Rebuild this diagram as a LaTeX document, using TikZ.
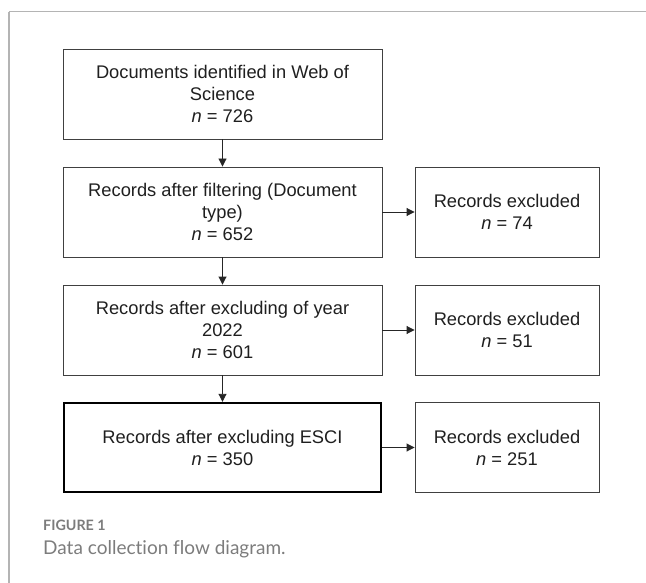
\documentclass[tikz,border=0pt]{standalone}
\usepackage{fontspec}
\setmainfont{Liberation Sans}
\newfontfamily\capfont[Ligatures={NoCommon,NoRare,NoDiscretionary}]{Lato}
\usetikzlibrary{arrows.meta}
\definecolor{boxline}{HTML}{404040}
\definecolor{framegray}{HTML}{B4B4B4}
\definecolor{capgray}{HTML}{7C7C7C}
\tikzset{
  flowbox/.style={draw=boxline, line width=0.9pt, inner sep=0pt, align=center,
    text=black!88, font=\fontsize{18.3}{22}\selectfont},
  leftbox/.style={flowbox, minimum width=319pt, minimum height=90pt},
  rightbox/.style={flowbox, minimum width=184pt, minimum height=90pt},
  finalbox/.style={leftbox, draw=black, line width=2.4pt, minimum width=317pt, minimum height=89pt},
  flowarrow/.style={draw=black!85, line width=0.9pt, -{Triangle[length=8pt,width=8pt]}}
}
\begin{document}
\begin{tikzpicture}[x=1pt,y=-1pt]
\useasboundingbox (0,0) rectangle (646,583);
% frame
\draw[framegray, line width=1pt] (9,12) -- (646,12);
\draw[framegray, line width=2pt] (9,12) -- (9,583);
% boxes
\node[leftbox] (b1) at (222.5,94) {Documents identified in Web of\\Science\\\textit{n} = 726};
\node[leftbox] (b2) at (222.5,212) {Records after filtering (Document\\type)\\\textit{n} = 652};
\node[leftbox] (b3) at (222.5,330) {Records after excluding of year\\2022\\\textit{n} = 601};
\node[finalbox] (b4) at (222.5,447.5) {Records after excluding ESCI\\\textit{n} = 350};
\node[rightbox] (r2) at (507,212) {Records excluded\\\textit{n} = 74};
\node[rightbox] (r3) at (507,330) {Records excluded\\\textit{n} = 51};
\node[rightbox] (r4) at (507,447.5) {Records excluded\\\textit{n} = 251};
% arrows
\draw[flowarrow] (b1) -- (b2);
\draw[flowarrow] (b2) -- (b3);
\draw[flowarrow] (b3) -- (b4);
\draw[flowarrow] (b2) -- (r2);
\draw[flowarrow] (b3) -- (r3);
\draw[flowarrow] (b4) -- (r4);
% caption
\node[anchor=base west, inner sep=0pt, text=capgray, font=\capfont\bfseries\fontsize{14.3}{16}\selectfont] (fig) at (43,530) {FIGURE 1};
\node[anchor=base west, inner sep=0pt, text=capgray, font=\capfont\fontsize{19}{22}\selectfont] (cap) at (43,554) {Data collection flow diagram.};
\end{tikzpicture}
\end{document}
